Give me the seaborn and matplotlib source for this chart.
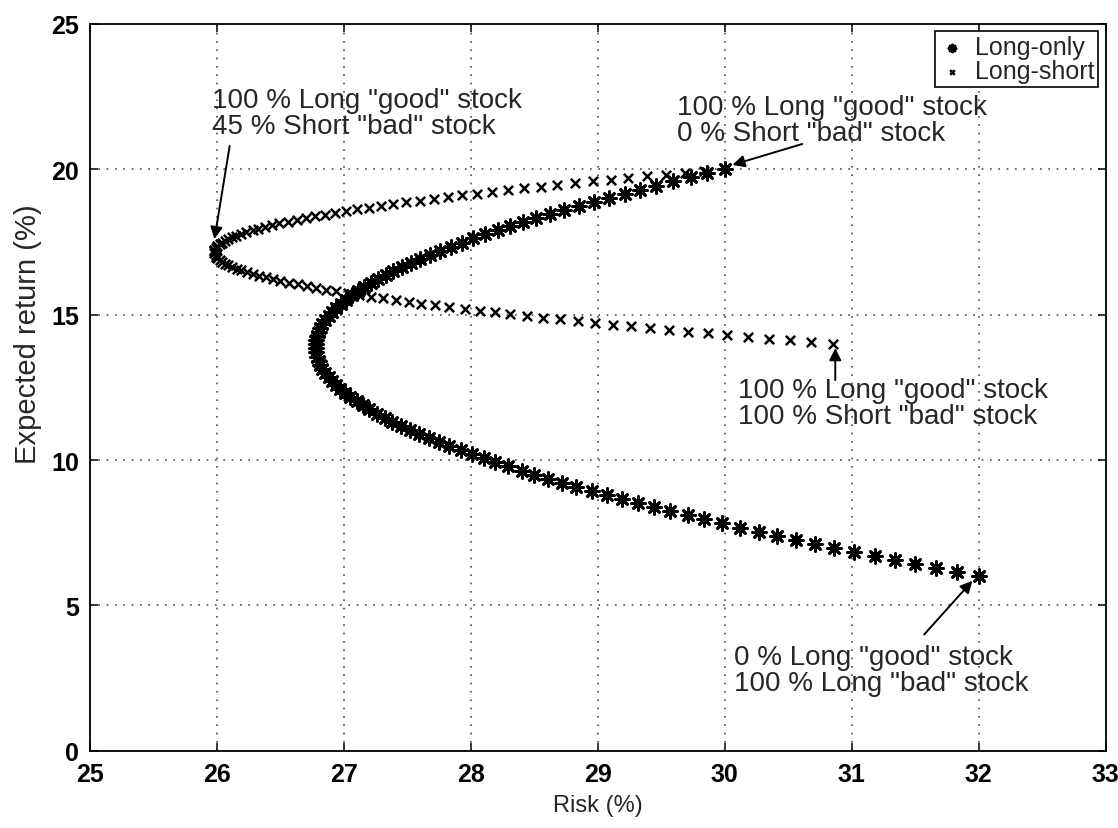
import matplotlib
matplotlib.use("Agg")
import matplotlib.pyplot as plt
import seaborn as sns
import pandas as pd

# ---------------- data ----------------
long_only_risk = [
    32.00, 31.83, 31.66, 31.50, 31.34, 31.18, 31.02, 30.86, 30.71, 30.56,
    30.41, 30.27, 30.12, 29.98, 29.84, 29.71, 29.57, 29.44, 29.32, 29.19,
    29.07, 28.95, 28.83, 28.72, 28.61, 28.50, 28.40, 28.29, 28.19, 28.10,
    28.01, 27.92, 27.83, 27.75, 27.67, 27.59, 27.52, 27.45, 27.38, 27.32,
    27.26, 27.20, 27.15, 27.10, 27.05, 27.01, 26.97, 26.94, 26.91, 26.88,
    26.85, 26.83, 26.81, 26.80, 26.79, 26.78, 26.78, 26.78, 26.78, 26.79,
    26.80, 26.81, 26.83, 26.85, 26.88, 26.91, 26.94, 26.98, 27.02, 27.06,
    27.11, 27.16, 27.21, 27.27, 27.33, 27.39, 27.46, 27.53, 27.60, 27.68,
    27.76, 27.84, 27.93, 28.02, 28.11, 28.21, 28.31, 28.41, 28.51, 28.62,
    28.73, 28.85, 28.97, 29.09, 29.21, 29.33, 29.46, 29.59, 29.73, 29.86,
    30.00,
]
long_only_return = [
    6.00, 6.14, 6.28, 6.42, 6.56, 6.70, 6.84, 6.98, 7.12, 7.26,
    7.40, 7.54, 7.68, 7.82, 7.96, 8.10, 8.24, 8.38, 8.52, 8.66,
    8.80, 8.94, 9.08, 9.22, 9.36, 9.50, 9.64, 9.78, 9.92, 10.06,
    10.20, 10.34, 10.48, 10.62, 10.76, 10.90, 11.04, 11.18, 11.32, 11.46,
    11.60, 11.74, 11.88, 12.02, 12.16, 12.30, 12.44, 12.58, 12.72, 12.86,
    13.00, 13.14, 13.28, 13.42, 13.56, 13.70, 13.84, 13.98, 14.12, 14.26,
    14.40, 14.54, 14.68, 14.82, 14.96, 15.10, 15.24, 15.38, 15.52, 15.66,
    15.80, 15.94, 16.08, 16.22, 16.36, 16.50, 16.64, 16.78, 16.92, 17.06,
    17.20, 17.34, 17.48, 17.62, 17.76, 17.90, 18.04, 18.18, 18.32, 18.46,
    18.60, 18.74, 18.88, 19.02, 19.16, 19.30, 19.44, 19.58, 19.72, 19.86,
    20.00,
]
long_short_risk = [
    30.00, 29.84, 29.69, 29.54, 29.39, 29.24, 29.10, 28.96, 28.82, 28.68,
    28.55, 28.42, 28.29, 28.17, 28.05, 27.93, 27.82, 27.71, 27.60, 27.49,
    27.39, 27.29, 27.20, 27.10, 27.02, 26.93, 26.85, 26.77, 26.70, 26.63,
    26.56, 26.49, 26.43, 26.38, 26.32, 26.28, 26.23, 26.19, 26.15, 26.12,
    26.09, 26.06, 26.04, 26.02, 26.00, 25.99, 25.98, 25.98, 25.98, 25.99,
    25.99, 26.00, 26.02, 26.04, 26.06, 26.09, 26.12, 26.16, 26.19, 26.24,
    26.28, 26.33, 26.39, 26.44, 26.50, 26.57, 26.64, 26.71, 26.78, 26.86,
    26.94, 27.03, 27.12, 27.21, 27.31, 27.41, 27.51, 27.61, 27.72, 27.83,
    27.95, 28.07, 28.19, 28.31, 28.44, 28.57, 28.70, 28.84, 28.98, 29.12,
    29.26, 29.41, 29.56, 29.71, 29.87, 30.02, 30.18, 30.35, 30.51, 30.68,
    30.85,
]
long_short_return = [
    20.00, 19.94, 19.88, 19.82, 19.76, 19.70, 19.64, 19.58, 19.52, 19.46,
    19.40, 19.34, 19.28, 19.22, 19.16, 19.10, 19.04, 18.98, 18.92, 18.86,
    18.80, 18.74, 18.68, 18.62, 18.56, 18.50, 18.44, 18.38, 18.32, 18.26,
    18.20, 18.14, 18.08, 18.02, 17.96, 17.90, 17.84, 17.78, 17.72, 17.66,
    17.60, 17.54, 17.48, 17.42, 17.36, 17.30, 17.24, 17.18, 17.12, 17.06,
    17.00, 16.94, 16.88, 16.82, 16.76, 16.70, 16.64, 16.58, 16.52, 16.46,
    16.40, 16.34, 16.28, 16.22, 16.16, 16.10, 16.04, 15.98, 15.92, 15.86,
    15.80, 15.74, 15.68, 15.62, 15.56, 15.50, 15.44, 15.38, 15.32, 15.26,
    15.20, 15.14, 15.08, 15.02, 14.96, 14.90, 14.84, 14.78, 14.72, 14.66,
    14.60, 14.54, 14.48, 14.42, 14.36, 14.30, 14.24, 14.18, 14.12, 14.06,
    14.00,
]
series_labels = ["Long-only", "Long-short"]
x_ticks = [25, 26, 27, 28, 29, 30, 31, 32, 33]
y_ticks = [0, 5, 10, 15, 20, 25]
x_label = "Risk (%)"
y_label = "Expected return (%)"
annotations = [
    ('100 % Long "good" stock\n45 % Short "bad" stock', (25.96, 21.95), (26.10, 20.8), (25.98, 17.6)),
    ('100 % Long "good" stock\n0 % Short "bad" stock', (29.62, 21.70), (30.61, 20.87), (30.06, 20.15)),
    ('100 % Long "good" stock\n100 % Short "bad" stock', (30.10, 11.97), (30.87, 12.75), (30.87, 13.85)),
    ('0 % Long "good" stock\n100 % Long "bad" stock', (30.07, 2.79), (31.57, 4.0), (31.95, 5.85)),
]

# ---------------- style ----------------
sns.set_style("ticks")
plt.rcParams["font.family"] = ["Liberation Sans", "DejaVu Sans"]

fig = plt.figure(figsize=(11.18, 8.29), dpi=100)
ax = fig.add_axes([0.0805, 0.093, 0.9085, 0.877])

lo = pd.DataFrame({"risk": long_only_risk, "ret": long_only_return})
ls = pd.DataFrame({"risk": long_short_risk, "ret": long_short_return})

sns.scatterplot(data=lo, x="risk", y="ret", marker=(8, 2, 0), s=100, color="black",
                linewidth=2.0, ax=ax, label=series_labels[0], zorder=3)
sns.scatterplot(data=ls, x="risk", y="ret", marker="x", s=45, color="black",
                linewidth=1.8, ax=ax, label=series_labels[1], zorder=3)

ax.set_xlim(x_ticks[0], x_ticks[-1])
ax.set_ylim(y_ticks[0], y_ticks[-1])
ax.set_xticks(x_ticks)
ax.set_yticks(y_ticks)
ax.grid(True, color="0.3", linestyle=(0, (1, 4)), linewidth=1.2)
for sp in ax.spines.values():
    sp.set_visible(True)
    sp.set_color("black")
    sp.set_linewidth(1.3)
ax.tick_params(direction="in", top=True, right=True, length=6, width=1.1,
               labelsize=18, pad=8, colors="black")
for lab in ax.get_xticklabels() + ax.get_yticklabels():
    lab.set_fontweight("bold")
ax.set_xlabel(x_label, fontsize=17, labelpad=6)
ax.set_ylabel(y_label, fontsize=21, labelpad=10)
ax.yaxis.set_label_coords(-0.047, 0.575)

for text, tpos, tail, tip in annotations:
    ax.text(tpos[0], tpos[1], text, fontsize=20, ha="left", va="center",
            linespacing=1.0, zorder=4)
    ax.annotate("", xy=tip, xytext=tail,
                arrowprops=dict(arrowstyle="-|>", color="black", lw=1.4,
                                mutation_scale=18, shrinkA=0, shrinkB=0))

leg = ax.legend(loc="upper right", frameon=True, fancybox=False, fontsize=18,
                edgecolor="black", handletextpad=0.35, borderpad=0.15,
                handlelength=1.1, labelspacing=0.0, borderaxespad=0.3,
                markerscale=0.5)
leg.get_frame().set_linewidth(1.2)
leg.get_frame().set_alpha(1)

fig.savefig("out.png", dpi=100)
